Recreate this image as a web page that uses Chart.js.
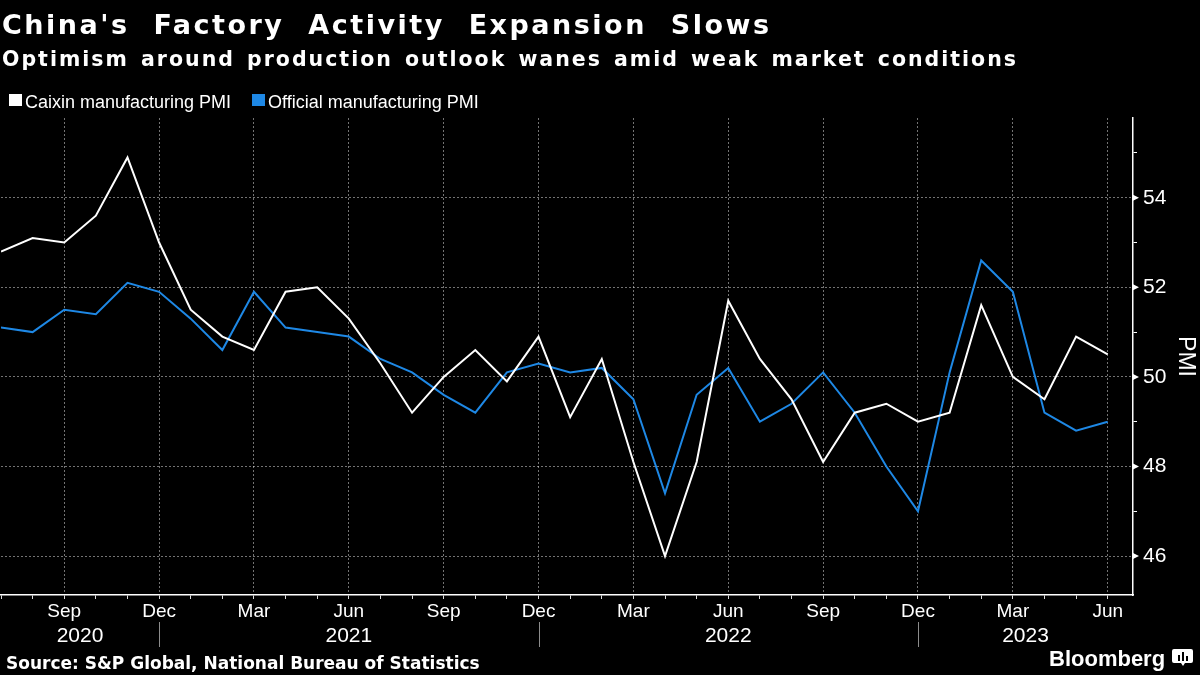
<!DOCTYPE html>
<html>
<head>
<meta charset="utf-8">
<script src="https://cdn.jsdelivr.net/npm/chart.js@4.4.0/dist/chart.umd.min.js"></script>
<style>
  body { margin: 0; background: #000; }
  #wrap { position: relative; width: 1200px; height: 675px; overflow: hidden; background: #000; color: #fff; }
  #chart { position: absolute; left: 0; top: 0; }
  .txt { position: absolute; white-space: nowrap; line-height: 1; }
  #title { left: 2px; top: 9px; font: bold 27px "DejaVu Sans"; letter-spacing: 2.5px; word-spacing: 12px; }
  #subtitle { left: 2px; top: 47px; font: bold 20.5px "DejaVu Sans"; letter-spacing: 2px; word-spacing: 3px; }
  #legend { left: 0; top: 92px; width: 600px; height: 20px; font: 18px "Liberation Sans"; }
  #legend .key { position: absolute; top: 2px; width: 13px; height: 12px; }
  #legend .lbl { position: absolute; top: 0; }
  #source { left: 6px; top: 653px; font: bold 17px "DejaVu Sans"; }
  #brand { left: 1049px; top: 646px; font: bold 22px "Liberation Sans"; }
  #logo { position: absolute; left: 1172px; top: 649px; }
</style>
</head>
<body>
<div id="wrap">
  <canvas id="chart" width="1200" height="675"></canvas>
  <div class="txt" id="title">China's Factory Activity Expansion Slows</div>
  <div class="txt" id="subtitle">Optimism around production outlook wanes amid weak market conditions</div>
  <div class="txt" id="legend"></div>
  <div class="txt" id="source">Source: S&amp;P Global, National Bureau of Statistics</div>
  <div class="txt" id="brand">Bloomberg</div>
  <svg id="logo" width="22" height="17" viewBox="0 0 22 17">
    <path d="M2 0h17a2 2 0 0 1 2 2v10a2 2 0 0 1-2 2h-6l-2 3l-2-3h-7a2 2 0 0 1-2-2v-10a2 2 0 0 1 2-2z" fill="#fff"/>
    <rect x="6" y="6" width="2" height="6" fill="#000"/>
    <rect x="10" y="3" width="2" height="9" fill="#000"/>
    <rect x="14" y="7" width="2" height="5" fill="#000"/>
  </svg>
</div>
<script>
// monthly readings, Jul 2020 - Jun 2023
const months = [
  'Jul 2020', 'Aug 2020', 'Sep 2020', 'Oct 2020', 'Nov 2020', 'Dec 2020',
  'Jan 2021', 'Feb 2021', 'Mar 2021', 'Apr 2021', 'May 2021', 'Jun 2021',
  'Jul 2021', 'Aug 2021', 'Sep 2021', 'Oct 2021', 'Nov 2021', 'Dec 2021',
  'Jan 2022', 'Feb 2022', 'Mar 2022', 'Apr 2022', 'May 2022', 'Jun 2022',
  'Jul 2022', 'Aug 2022', 'Sep 2022', 'Oct 2022', 'Nov 2022', 'Dec 2022',
  'Jan 2023', 'Feb 2023', 'Mar 2023', 'Apr 2023', 'May 2023', 'Jun 2023'
];
const caixin = [
  52.8, 53.1, 53.0, 53.6, 54.9, 53.0,
  51.5, 50.9, 50.6, 51.9, 52.0, 51.3,
  50.3, 49.2, 50.0, 50.6, 49.9, 50.9,
  49.1, 50.4, 48.1, 46.0, 48.1, 51.7,
  50.4, 49.5, 48.1, 49.2, 49.4, 49.0,
  49.2, 51.6, 50.0, 49.5, 50.9, 50.5
];
const official = [
  51.1, 51.0, 51.5, 51.4, 52.1, 51.9,
  51.3, 50.6, 51.9, 51.1, 51.0, 50.9,
  50.4, 50.1, 49.6, 49.2, 50.1, 50.3,
  50.1, 50.2, 49.5, 47.4, 49.6, 50.2,
  49.0, 49.4, 50.1, 49.2, 48.0, 47.0,
  50.1, 52.6, 51.9, 49.2, 48.8, 49.0
];
const seriesNames = ['Caixin manufacturing PMI', 'Official manufacturing PMI'];
const seriesColors = ['#ffffff', '#1e88e5'];
const quarterMonths = ['Mar', 'Jun', 'Sep', 'Dec'];
const yTickValues = [46, 47, 48, 49, 50, 51, 52, 53, 54, 55];
const yLabelValues = [46, 48, 50, 52, 54];

const isQuarter = i => quarterMonths.includes(months[i].slice(0, 3));
const gridColor = 'rgba(255,255,255,0.45)';

// legend
const legend = document.getElementById('legend');
const legendPos = [9, 252];
seriesNames.forEach((name, k) => {
  const key = document.createElement('span');
  key.className = 'key';
  key.style.left = legendPos[k] + 'px';
  key.style.background = seriesColors[k];
  const lbl = document.createElement('span');
  lbl.className = 'lbl';
  lbl.style.left = (legendPos[k] + 16) + 'px';
  lbl.textContent = name;
  legend.appendChild(key);
  legend.appendChild(lbl);
});

// year row under the month labels, and the little pointers on the y axis
const yearAxis = {
  id: 'yearAxis',
  afterDraw(chart) {
    const { ctx, chartArea, scales: { x, y } } = chart;
    ctx.save();
    ctx.fillStyle = '#fff';
    yLabelValues.forEach(v => {
      const py = y.getPixelForValue(v);
      ctx.beginPath();
      ctx.moveTo(chartArea.right, py - 3);
      ctx.lineTo(chartArea.right + 6, py);
      ctx.lineTo(chartArea.right, py + 3);
      ctx.closePath();
      ctx.fill();
    });

    const decs = months.map((m, i) => m.startsWith('Dec') ? i : -1).filter(i => i >= 0);
    const bounds = [chartArea.left, ...decs.map(i => x.getPixelForValue(i)), chartArea.right];
    const years = [...new Set(months.map(m => m.slice(4)))];
    ctx.strokeStyle = '#8c8c8c';
    ctx.lineWidth = 1;
    decs.forEach(i => {
      const px = Math.round(x.getPixelForValue(i)) + 0.5;
      ctx.beginPath();
      ctx.moveTo(px, chartArea.bottom + 27);
      ctx.lineTo(px, chartArea.bottom + 52);
      ctx.stroke();
    });
    ctx.font = '21px "Liberation Sans"';
    ctx.textAlign = 'center';
    ctx.textBaseline = 'alphabetic';
    years.forEach((yr, k) => ctx.fillText(yr, (bounds[k] + bounds[k + 1]) / 2, chartArea.bottom + 47));
    ctx.restore();
  }
};

new Chart(document.getElementById('chart'), {
  type: 'line',
  data: {
    datasets: [
      { label: seriesNames[0], data: caixin.map((v, i) => ({ x: i, y: v })), borderColor: seriesColors[0] },
      { label: seriesNames[1], data: official.map((v, i) => ({ x: i, y: v })), borderColor: seriesColors[1] }
    ]
  },
  options: {
    responsive: false,
    devicePixelRatio: 1,
    animation: false,
    layout: { padding: { top: 118, bottom: 30, left: 0, right: 0 } },
    elements: {
      line: { borderWidth: 2, tension: 0 },
      point: { radius: 0 }
    },
    plugins: {
      legend: { display: false },
      tooltip: { enabled: false }
    },
    scales: {
      x: {
        type: 'linear',
        min: 0,
        max: 35.8,
        afterBuildTicks: axis => { axis.ticks = months.map((m, i) => ({ value: i })); },
        afterFit: axis => { axis.height = 50; },
        ticks: {
          autoSkip: false,
          maxRotation: 0,
          padding: 1,
          color: '#fff',
          font: { family: 'Liberation Sans', size: 19 },
          callback: v => isQuarter(v) ? months[v].slice(0, 3) : ''
        },
        grid: {
          color: c => c.tick && isQuarter(c.tick.value) ? gridColor : 'transparent',
          tickColor: '#ddd',
          tickLength: 4,
          lineWidth: 1
        },
        border: { color: '#fff', width: 1.5, dash: [2, 2] }
      },
      y: {
        position: 'right',
        min: 45.13,
        max: 55.78,
        afterBuildTicks: axis => { axis.ticks = yTickValues.map(v => ({ value: v })); },
        afterFit: axis => { axis.width = 67; },
        ticks: {
          padding: 6,
          color: '#fff',
          font: { family: 'Liberation Sans', size: 21 },
          callback: v => yLabelValues.includes(v) ? String(v) : ''
        },
        grid: {
          color: c => c.tick && yLabelValues.includes(c.tick.value) ? gridColor : 'transparent',
          tickColor: '#fff',
          tickLength: 4,
          lineWidth: 1
        },
        border: { color: '#fff', width: 1.5, dash: [2, 2] },
        title: {
          display: true,
          text: 'PMI',
          color: '#fff',
          font: { family: 'Liberation Sans', size: 23 },
          padding: { top: 1, bottom: 0 }
        }
      }
    }
  },
  plugins: [yearAxis]
});
</script>
</body>
</html>
